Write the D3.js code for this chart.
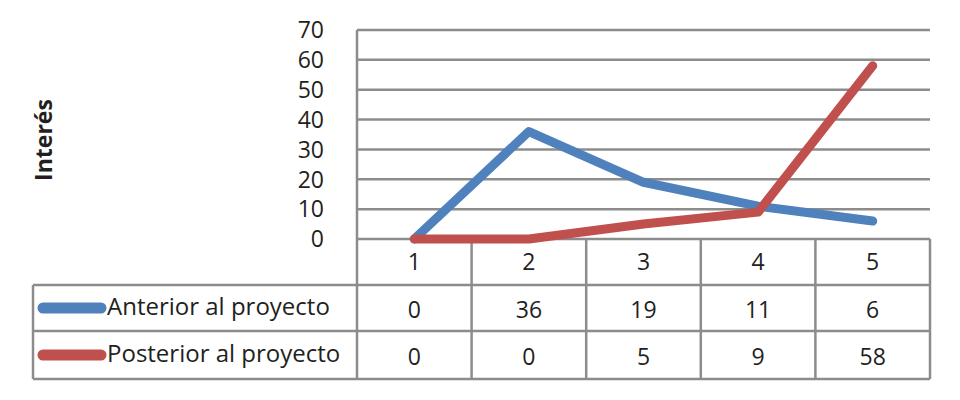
<!DOCTYPE html>
<html lang="es">
<head>
<meta charset="UTF-8">
<title>Interés</title>
<script src="https://d3js.org/d3.v7.min.js"></script>
<style>
  body, html { margin: 0; background: #fff; }
  svg { font-family: 'Open Sans', 'Noto Sans', sans-serif; }
  .tick-label { font-size: 23px; fill: #231f20; }
  .legend-label { font-size: 24px; fill: #231f20; }
  .cell { font-size: 23px; fill: #231f20; text-anchor: middle; }
</style>
</head>
<body>
<svg width="960" height="400"></svg>
<script>
const categories = ["1", "2", "3", "4", "5"];
const seriesNames = ["Anterior al proyecto", "Posterior al proyecto"];
const anterior = [0, 36, 19, 11, 6];
const posterior = [0, 0, 5, 9, 58];
const yTicks = [0, 10, 20, 30, 40, 50, 60, 70];
const colors = ["#4f81bd", "#c0504d"];

const svg = d3.select("svg");
const plotLeft = 357, plotRight = 930, plotTop = 30, zero = 239;
const rowEdges = [239, 285, 331, 379];
const tableLeft = 33;
const grid = "#8c8c8c";

const x = d3.scaleBand().domain(categories).range([plotLeft, plotRight]);
const y = d3.scaleLinear().domain([0, 70]).range([zero, plotTop]);

// gridlines
svg.append("g").selectAll("line").data(yTicks).join("line")
  .attr("x1", plotLeft).attr("x2", plotRight)
  .attr("y1", d => y(d)).attr("y2", d => y(d))
  .attr("stroke", grid).attr("stroke-width", 2.5);

// y tick labels
svg.append("g").selectAll("text").data(yTicks).join("text")
  .attr("class", "tick-label")
  .attr("x", 324).attr("y", d => y(d))
  .attr("dy", "0.36em")
  .attr("text-anchor", "end")
  .text(d => d);

// y title
svg.append("text")
  .attr("transform", "translate(52,140) rotate(-90)")
  .attr("text-anchor", "middle")
  .style("font-size", "23px").style("font-weight", "bold").style("fill", "#231f20")
  .text("Interés");

// table lines
const tbl = svg.append("g").attr("stroke", grid).attr("stroke-width", 2.5).attr("fill", "none");
tbl.append("line").attr("x1", plotLeft).attr("x2", plotLeft).attr("y1", plotTop).attr("y2", rowEdges[3]);
categories.forEach(c => {
  const xe = x(c) + x.bandwidth();
  tbl.append("line").attr("x1", xe).attr("x2", xe).attr("y1", zero).attr("y2", rowEdges[3]);
});
[1, 2, 3].forEach(r => {
  tbl.append("line").attr("x1", tableLeft).attr("x2", plotRight).attr("y1", rowEdges[r]).attr("y2", rowEdges[r]);
});
tbl.append("line").attr("x1", tableLeft).attr("x2", tableLeft).attr("y1", rowEdges[1]).attr("y2", rowEdges[3]);

// category labels
svg.append("g").selectAll("text").data(categories).join("text")
  .attr("class", "cell")
  .attr("x", d => x(d) + x.bandwidth() / 2)
  .attr("y", (rowEdges[0] + rowEdges[1]) / 2)
  .attr("dy", "0.36em")
  .text(d => d);

// lines
const line = d3.line()
  .x((d, i) => x(categories[i]) + x.bandwidth() / 2)
  .y(d => y(d));

[anterior, posterior].forEach((vals, s) => {
  svg.append("path")
    .datum(vals)
    .attr("d", line)
    .attr("fill", "none")
    .attr("stroke", colors[s])
    .attr("stroke-width", 9)
    .attr("stroke-linecap", "round")
    .attr("stroke-linejoin", "round");

  const cy = (rowEdges[s + 1] + rowEdges[s + 2]) / 2;
  svg.append("line")
    .attr("x1", 43).attr("x2", 101)
    .attr("y1", cy).attr("y2", cy)
    .attr("stroke", colors[s]).attr("stroke-width", 11)
    .attr("stroke-linecap", "round");
  svg.append("text")
    .attr("class", "legend-label")
    .attr("x", 107).attr("y", cy - 2)
    .attr("dy", "0.36em")
    .text(seriesNames[s]);

  svg.append("g").selectAll("text").data(vals).join("text")
    .attr("class", "cell")
    .attr("x", (d, i) => x(categories[i]) + x.bandwidth() / 2)
    .attr("y", cy + 2)
    .attr("dy", "0.36em")
    .text(d => d);
});
</script>
</body>
</html>
